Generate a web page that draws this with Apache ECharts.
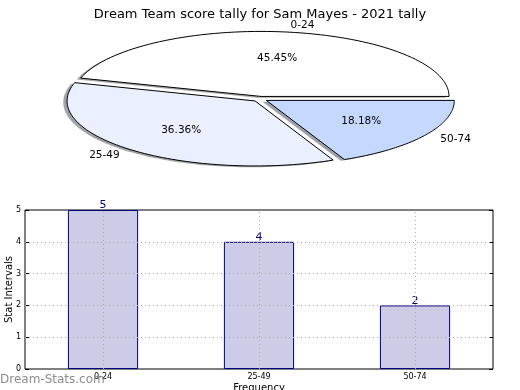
<!DOCTYPE html>
<html>
<head>
<meta charset="utf-8">
<script src="https://cdn.jsdelivr.net/npm/echarts@6/dist/echarts.min.js"></script>
<style>html,body{margin:0;padding:0;background:#fff}#c{width:520px;height:390px}</style>
</head>
<body>
<div id="c"></div>
<script>
// ---- data ----
const chartTitle = 'Dream Team score tally for Sam Mayes - 2021 tally';
const watermark = 'Dream-Stats.com';
const categories = ['0-24', '25-49', '50-74'];
const counts = [5, 4, 2];
const yTicks = [0, 1, 2, 3, 4, 5];
const yAxisName = 'Stat Intervals';
const xAxisName = 'Frequency';

// ---- style ----
const FONT = 'DejaVu Sans';
const sliceColors = ['#FFFFFF', '#EAF0FF', '#C5D8FF'];
const explode = 0.04;

const total = counts.reduce((a, b) => a + b, 0);
const starts = [];
let acc = 0;
counts.forEach(v => { starts.push(acc / total * 2 * Math.PI); acc += v; });

function shade(hex) {
  const r = parseInt(hex.slice(1, 3), 16), g = parseInt(hex.slice(3, 5), 16), b = parseInt(hex.slice(5, 7), 16);
  return 'rgba(' + Math.round(r * 0.3) + ',' + Math.round(g * 0.3) + ',' + Math.round(b * 0.3) + ',0.5)';
}

function renderSlice(params, api) {
  const i = params.dataIndex;
  const v = api.value(1);
  const a0 = starts[i];
  const a1 = a0 + v / total * 2 * Math.PI;
  const mid = (a0 + a1) / 2;
  const ox = explode * Math.cos(mid), oy = explode * Math.sin(mid);
  const pts = [api.coord([ox, oy])];
  const n = 80;
  for (let k = 0; k <= n; k++) {
    const a = a0 + (a1 - a0) * k / n;
    pts.push(api.coord([ox + Math.cos(a), oy + Math.sin(a)]));
  }
  const sh = pts.map(p => [p[0] - 3.8, p[1] + 1.3]);
  const lp = api.coord([ox + 1.1 * Math.cos(mid), oy + 1.1 * Math.sin(mid)]);
  const pp = api.coord([ox + 0.6 * Math.cos(mid), oy + 0.6 * Math.sin(mid)]);
  const pct = (v / total * 100).toFixed(2) + '%';
  return {
    type: 'group',
    children: [
      { type: 'polygon', shape: { points: sh }, style: { fill: shade(sliceColors[i]), stroke: 'none' } },
      { type: 'polygon', shape: { points: pts }, style: { fill: sliceColors[i], stroke: '#000', lineWidth: 1 } },
      { type: 'text', style: { text: pct, x: pp[0], y: pp[1], textAlign: 'center', textVerticalAlign: 'middle', fill: '#000', font: '10.5px "' + FONT + '"' } },
      { type: 'text', style: { text: categories[i], x: lp[0], y: lp[1], textAlign: Math.cos(mid) > 0 ? 'left' : 'right', textVerticalAlign: 'middle', fill: '#000', font: '10.5px "' + FONT + '"' } }
    ]
  };
}

const chart = echarts.init(document.getElementById('c'), null, { renderer: 'canvas' });
chart.setOption({
  animation: false,
  backgroundColor: '#fff',
  textStyle: { fontFamily: FONT },
  title: [
    { text: chartTitle, left: 'center', top: 3, textStyle: { fontSize: 13, fontWeight: 'normal', color: '#000', fontFamily: FONT } },
    { text: watermark, left: 0, top: 374, padding: 0, textStyle: { fontSize: 12, fontWeight: 'normal', color: '#8c8c8c', fontFamily: FONT } }
  ],
  grid: [
    { left: 72, top: 34, width: 376, height: 130, outerBoundsMode: 'none', containLabel: false },
    { left: 25, right: 27, top: 210, bottom: 21, show: true, borderColor: '#000', borderWidth: 1, backgroundColor: 'transparent', outerBoundsMode: 'none', containLabel: false }
  ],
  xAxis: [
    { gridIndex: 0, type: 'value', min: -1, max: 1, show: false },
    { gridIndex: 1, type: 'category', data: categories,
      axisLine: { show: false },
      axisTick: { show: true, inside: true, alignWithLabel: true, length: 4, lineStyle: { color: '#000' } },
      axisLabel: { fontSize: 8, color: '#000', margin: 4, fontFamily: FONT },
      nameMoveOverlap: false,
      name: xAxisName, nameLocation: 'middle', nameGap: 14, nameTextStyle: { fontSize: 10, color: '#000', fontFamily: FONT } }
  ],
  yAxis: [
    { gridIndex: 0, type: 'value', min: -1, max: 1, show: false },
    { gridIndex: 1, type: 'value', min: yTicks[0], max: yTicks[yTicks.length - 1], interval: 1,
      axisLine: { show: false }, splitLine: { show: false },
      axisTick: { show: true, inside: true, length: 4, lineStyle: { color: '#000' } },
      axisLabel: { fontSize: 8, color: '#000', margin: 4, fontFamily: FONT },
      nameMoveOverlap: false,
      name: yAxisName, nameLocation: 'middle', nameGap: 11, nameRotate: 90, nameTextStyle: { fontSize: 10, color: '#000', fontFamily: FONT } },
    { gridIndex: 1, type: 'value', position: 'right', min: yTicks[0], max: yTicks[yTicks.length - 1], interval: 1,
      axisLine: { show: false }, splitLine: { show: false }, axisLabel: { show: false },
      axisTick: { show: true, inside: true, length: 4, lineStyle: { color: '#000' } } }
  ],
  series: [
    { type: 'custom', xAxisIndex: 0, yAxisIndex: 0, renderItem: renderSlice,
      data: counts.map((v, i) => [i, v]), clip: false, silent: true },
    { type: 'bar', xAxisIndex: 1, yAxisIndex: 1, data: counts, barWidth: '45%',
      itemStyle: { color: '#CCCCE6', borderColor: '#000080', borderWidth: 1 },
      label: { show: true, position: 'top', distance: -1, color: '#000080', fontSize: 11, fontFamily: FONT },
      markLine: {
        silent: true, symbol: ['none', 'none'], label: { show: false },
        lineStyle: { type: [1, 3], color: '#aaa', width: 1 },
        data: categories.map(c => ({ xAxis: c })).concat(yTicks.slice(1, -1).map(t => ({ yAxis: t })))
      } }
  ]
});
</script>
</body>
</html>
